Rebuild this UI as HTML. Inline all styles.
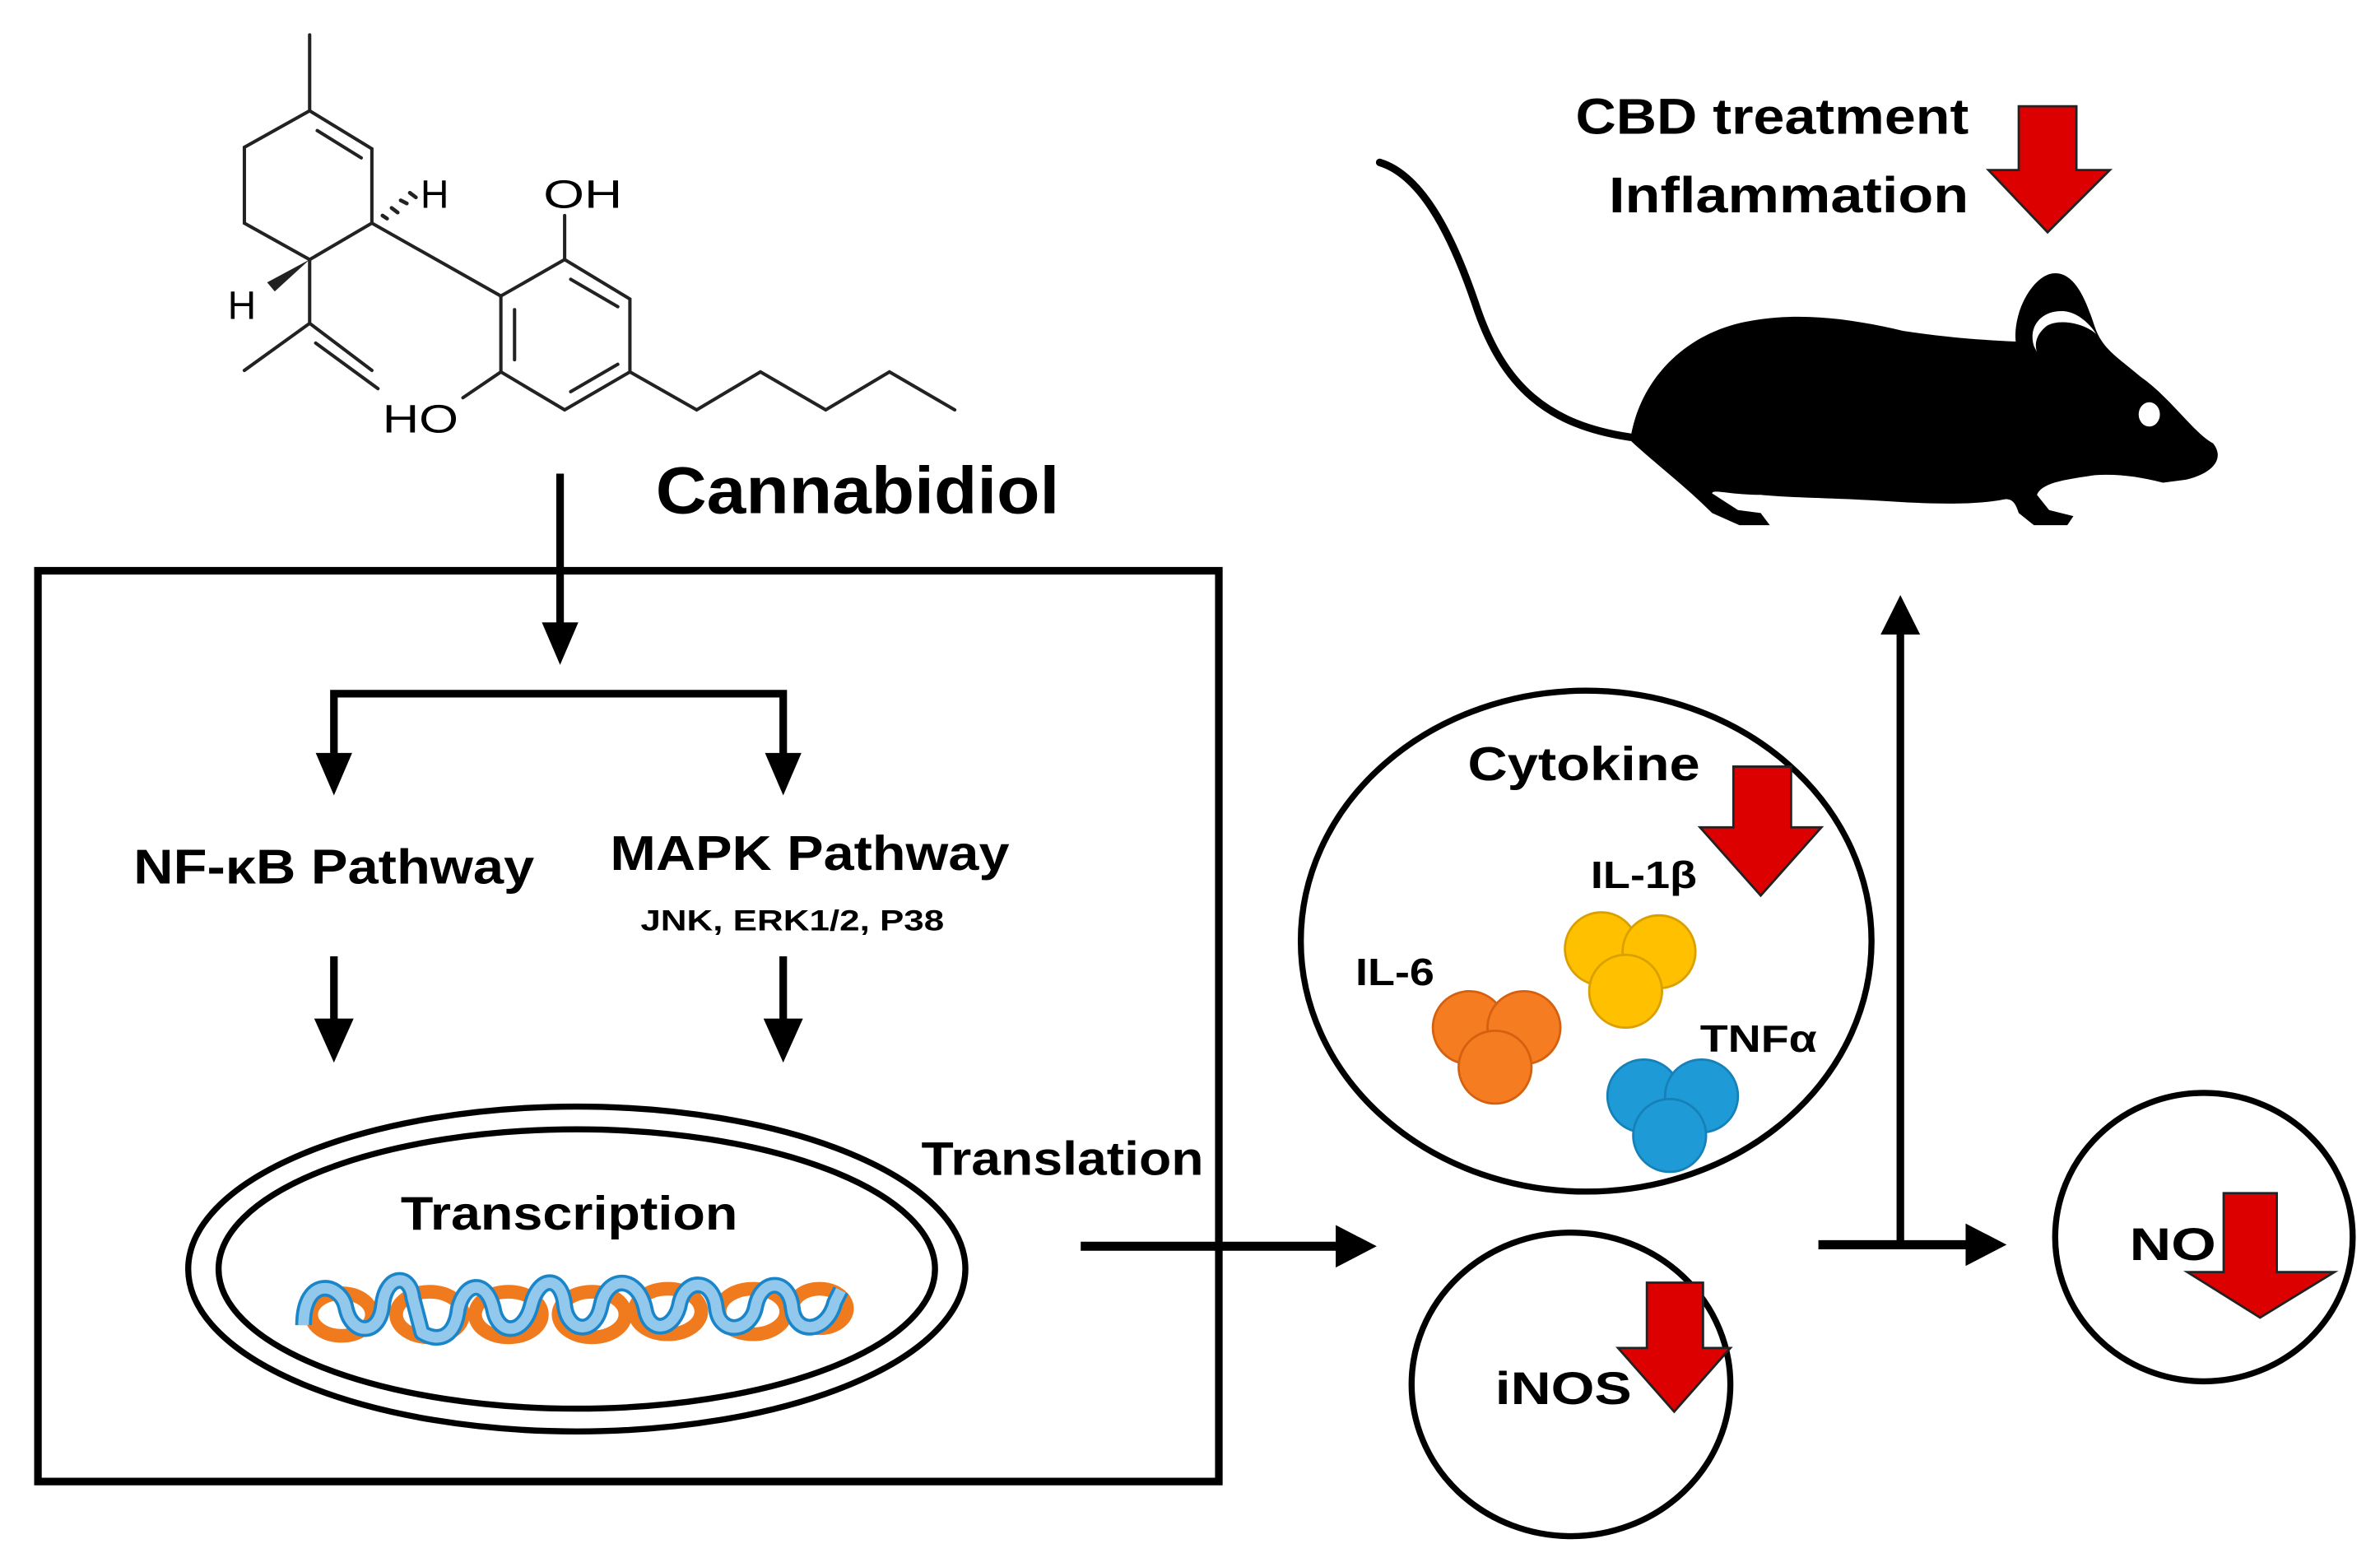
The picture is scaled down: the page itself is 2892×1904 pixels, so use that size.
<!DOCTYPE html>
<html><head><meta charset="utf-8"><style>
html,body{margin:0;padding:0;background:#fff}
svg{display:block}
text{font-family:"Liberation Sans",sans-serif;font-weight:bold;fill:#000}
</style></head><body>
<svg width="2892" height="1904" viewBox="0 0 1568 1032.3" xmlns="http://www.w3.org/2000/svg">
<rect x="0" y="0" width="1568" height="1033" fill="#fff"/>

<!-- Molecule -->
<g stroke="#222" stroke-width="2.2" fill="none" stroke-linecap="round">
<path d="M204,23 L204,73"/>
<path d="M204,73 L245,98 L245,147 L204,171 L161,147 L161,97 Z"/>
<path d="M209,86 L238,104"/>
<path d="M204,171 L204,213 L161,244 M204,213 L245,244 M208,226 L249,256"/>
<path d="M245,147 L330,195"/>
<path d="M330,195 L372,171 L415,197 L415,245 L372,270 L330,245 Z"/>
<path d="M339,204 L339,237 M376,184 L407,202 M407,240 L376,258"/>
<path d="M372,171 L372,142 M330,245 L305,262"/>
<path d="M415,245 L459,270 L501,245 L544,270 L586,245 L629,270"/>
<path d="M252,142 L255,144 M258,137 L262,140 M264,132 L268,134 M270,127 L274,130" stroke-width="2.5"/>
</g>
<path d="M204,171 L176,186 L181,192 Z" fill="#222"/>
<text x="277" y="137" font-size="26" style="font-weight:normal" fill="#222">H</text>
<text x="150" y="210" font-size="26" style="font-weight:normal" fill="#222">H</text>
<text x="358" y="137" font-size="26" style="font-weight:normal" fill="#222" textLength="52" lengthAdjust="spacingAndGlyphs">OH</text>
<text x="252" y="285" font-size="26" style="font-weight:normal" fill="#222" textLength="50" lengthAdjust="spacingAndGlyphs">HO</text>

<text x="432" y="338" font-size="44" textLength="266" lengthAdjust="spacingAndGlyphs">Cannabidiol</text>

<!-- Main box -->
<rect x="25" y="376" width="778" height="600" fill="none" stroke="#000" stroke-width="5"/>

<g stroke="#000" stroke-width="5" fill="none">
<path d="M369,312 L369,412"/>
<path d="M220,500 L220,457 L516,457 L516,500"/>
<path d="M220,630 L220,674"/>
<path d="M516,630 L516,674"/>
</g>
<g fill="#000">
<path d="M357,410 L381,410 L369,438 Z"/>
<path d="M208,496 L232,496 L220,524 Z"/>
<path d="M504,496 L528,496 L516,524 Z"/>
<path d="M207,671 L233,671 L220,700 Z"/>
<path d="M503,671 L529,671 L516,700 Z"/>
</g>

<text x="88" y="582" font-size="32" textLength="264" lengthAdjust="spacingAndGlyphs">NF-κB Pathway</text>
<text x="402" y="573" font-size="32" textLength="263" lengthAdjust="spacingAndGlyphs">MAPK Pathway</text>
<text x="422" y="613" font-size="19" textLength="200" lengthAdjust="spacingAndGlyphs">JNK, ERK1/2, P38</text>

<ellipse cx="380" cy="836" rx="256" ry="107" fill="none" stroke="#000" stroke-width="4"/>
<ellipse cx="380" cy="836" rx="236" ry="92" fill="none" stroke="#000" stroke-width="4"/>
<text x="264" y="810" font-size="31" textLength="222" lengthAdjust="spacingAndGlyphs">Transcription</text>

<!-- DNA -->
<g fill="none" stroke="#f07a1e" stroke-width="9">
<ellipse cx="225" cy="866" rx="20" ry="14"/>
<ellipse cx="283" cy="866" rx="22" ry="15"/>
<ellipse cx="335" cy="866" rx="22" ry="15"/>
<ellipse cx="390" cy="866" rx="22" ry="15"/>
<ellipse cx="440" cy="864" rx="22" ry="15"/>
<ellipse cx="496" cy="864" rx="22" ry="15"/>
<ellipse cx="540" cy="862" rx="18" ry="13"/>
</g>
<path id="dna" d="M200,873 C200,840 225,845 228,862 C232,880 250,880 252,860 C254,840 270,838 272,855 L278,878 C290,885 300,880 302,862 C306,845 320,842 325,862 C328,880 345,880 350,860 C355,840 370,840 372,860 C374,878 392,880 396,860 C400,840 420,840 425,862 C428,880 445,876 448,858 C452,842 470,842 472,862 C474,880 495,878 498,860 C502,842 520,842 522,862 C524,880 545,878 550,858 L554,850"
 fill="none" stroke="#1a85c8" stroke-width="11" stroke-linejoin="round"/>
<path d="M200,873 C200,840 225,845 228,862 C232,880 250,880 252,860 C254,840 270,838 272,855 L278,878 C290,885 300,880 302,862 C306,845 320,842 325,862 C328,880 345,880 350,860 C355,840 370,840 372,860 C374,878 392,880 396,860 C400,840 420,840 425,862 C428,880 445,876 448,858 C452,842 470,842 472,862 C474,880 495,878 498,860 C502,842 520,842 522,862 C524,880 545,878 550,858 L554,850"
 fill="none" stroke="#92c8ec" stroke-width="7" stroke-linejoin="round"/>

<text x="607" y="774" font-size="31" textLength="186" lengthAdjust="spacingAndGlyphs">Translation</text>

<path d="M712,821 L884,821" stroke="#000" stroke-width="6"/>
<path d="M880,807 L907,821 L880,835 Z" fill="#000"/>

<!-- Cytokine circle -->
<ellipse cx="1045" cy="620" rx="188" ry="165" fill="none" stroke="#000" stroke-width="4"/>
<text x="967" y="514" font-size="31" textLength="153" lengthAdjust="spacingAndGlyphs">Cytokine</text>
<path d="M1142,505 L1180,505 L1180,545 L1200,545 L1160,590 L1120,545 L1142,545 Z" fill="#dd0000" stroke="#222" stroke-width="1.5"/>
<text x="1048" y="585" font-size="25" textLength="70" lengthAdjust="spacingAndGlyphs">IL-1β</text>
<text x="893" y="649" font-size="25" textLength="52" lengthAdjust="spacingAndGlyphs">IL-6</text>
<text x="1120" y="693" font-size="25" textLength="77" lengthAdjust="spacingAndGlyphs">TNFα</text>
<g stroke-width="1.5">
<g fill="#ffc000" stroke="#d9a000">
<circle cx="1055" cy="625" r="24"/><circle cx="1093" cy="627" r="24"/><circle cx="1071" cy="653" r="24"/></g>
<g fill="#f57c20" stroke="#d46010">
<circle cx="968" cy="677" r="24"/><circle cx="1004" cy="677" r="24"/><circle cx="985" cy="703" r="24"/></g>
<g fill="#1e9ad6" stroke="#1680b8">
<circle cx="1083" cy="722" r="24"/><circle cx="1121" cy="722" r="24"/><circle cx="1100" cy="748" r="24"/></g>
</g>

<!-- iNOS -->
<ellipse cx="1035" cy="912" rx="105" ry="100" fill="none" stroke="#000" stroke-width="4"/>
<path d="M1085,845 L1122,845 L1122,888 L1140,888 L1103,930 L1066,888 L1085,888 Z" fill="#dd0000" stroke="#222" stroke-width="1.5"/>
<text x="985" y="925" font-size="30" textLength="90" lengthAdjust="spacingAndGlyphs">iNOS</text>

<path d="M1198,820 L1298,820" stroke="#000" stroke-width="6"/>
<path d="M1295,806 L1322,820 L1295,834 Z" fill="#000"/>
<path d="M1252,820 L1252,412" stroke="#000" stroke-width="5"/>
<path d="M1239,418 L1252,392 L1265,418 Z" fill="#000"/>

<!-- NO circle -->
<ellipse cx="1452" cy="815" rx="98" ry="95" fill="none" stroke="#000" stroke-width="4"/>
<path d="M1465,786 L1500,786 L1500,838 L1538,838 L1489,868 L1441,838 L1465,838 Z" fill="#dd0000" stroke="#222" stroke-width="1.5"/>
<text x="1403" y="830" font-size="30" textLength="57" lengthAdjust="spacingAndGlyphs">NO</text>

<!-- Mouse -->
<path d="M909,107 C935,115 955,150 972,200 C990,255 1020,280 1074,288" fill="none" stroke="#000" stroke-width="5" stroke-linecap="round"/>
<path d="M1074,290 C1080,250 1110,220 1150,212 C1185,205 1220,210 1254,218 C1280,222 1305,224 1328,225
 C1326,205 1340,180 1354,180 C1368,180 1375,200 1380,215 C1385,230 1395,235 1410,248
 C1430,262 1445,285 1458,292 C1466,302 1458,312 1440,316 L1425,318 C1410,314 1395,312 1380,313
 C1360,316 1345,318 1342,326 L1350,336 L1366,340 L1362,346 L1340,346 L1330,338 C1328,332 1326,328 1320,329
 C1300,333 1270,332 1240,330 C1210,328 1180,328 1160,326 C1140,326 1128,322 1128,325
 L1145,336 L1160,338 L1166,346 L1146,346 L1128,338 C1110,320 1090,305 1074,290 Z" fill="#000"/>
<path d="M1340,228 C1336,215 1345,204 1360,205 C1370,206 1378,215 1381,220 C1372,212 1355,210 1348,215 C1342,220 1340,226 1342,232 Z" fill="#fff"/>
<ellipse cx="1416" cy="273" rx="7" ry="8" fill="#fff"/>

<text x="1038" y="88" font-size="33" textLength="259" lengthAdjust="spacingAndGlyphs">CBD treatment</text>
<text x="1060" y="140" font-size="33" textLength="237" lengthAdjust="spacingAndGlyphs">Inflammation</text>
<path d="M1330,70 L1368,70 L1368,112 L1390,112 L1349,153 L1310,112 L1330,112 Z" fill="#dd0000" stroke="#222" stroke-width="1.5"/>
</svg>
</body></html>
